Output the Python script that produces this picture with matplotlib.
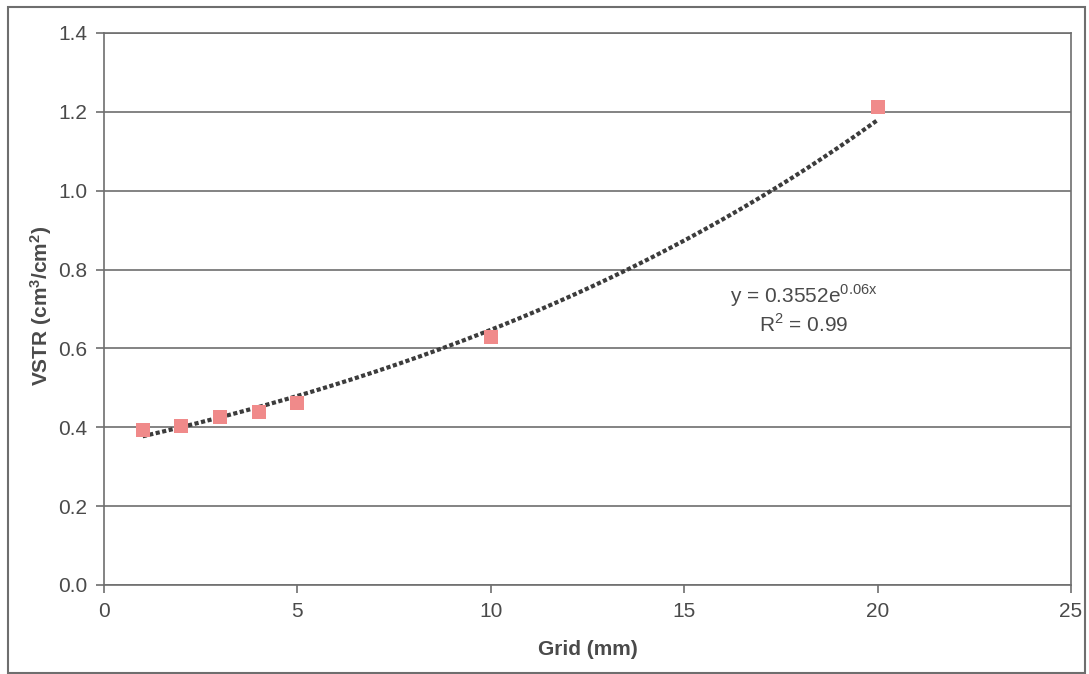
import numpy as np
import matplotlib.pyplot as plt
from matplotlib.patches import Rectangle

plt.rcParams['font.family'] = ['Liberation Sans', 'DejaVu Sans']
plt.rcParams['mathtext.fontset'] = 'custom'
plt.rcParams['mathtext.rm'] = 'Liberation Sans'
plt.rcParams['mathtext.bf'] = 'Liberation Sans:bold'

# Dados
grid_mm = [1, 2, 3, 4, 5, 10, 20]
vstr = [0.393, 0.403, 0.426, 0.439, 0.462, 0.629, 1.212]

# Coeficientes da linha de tendencia exponencial (do grafico)
coef_a = 0.3552
coef_b = 0.06

cor_texto = '#4a4a4a'
cor_linha = '#6e6e6e'

fig = plt.figure(figsize=(10.89, 6.74), dpi=100)
ax = fig.add_axes([104 / 1089, 1 - 585 / 674, (1071 - 104) / 1089, (585 - 33) / 674])

# Linha de tendencia
xt = np.linspace(min(grid_mm), max(grid_mm), 200)
ax.plot(xt, coef_a * np.exp(coef_b * xt), linestyle=(0, (1, 0.6)), color='#3c3c3c',
        linewidth=3, zorder=3)

# Pontos
ax.scatter(grid_mm, vstr, marker='s', s=95, color='#f08a8a', zorder=4, linewidths=0)

ax.set_xlim(0, 25)
ax.set_ylim(0, 1.4)
ax.set_xticks(range(0, 26, 5))
ax.set_yticks(np.arange(0, 1.41, 0.2))
ax.set_yticklabels([f'{v:.1f}' for v in np.arange(0, 1.41, 0.2)])
ax.yaxis.grid(True, color=cor_linha, linewidth=1.2)
ax.set_axisbelow(True)

for s in ax.spines.values():
    s.set_color(cor_linha)
    s.set_linewidth(1.2)

ax.tick_params(direction='out', length=6, width=1.2, color=cor_linha,
               labelsize=15, labelcolor=cor_texto, pad=6)

ax.set_xlabel('Grid (mm)', fontsize=15, fontweight='bold', color=cor_texto, labelpad=14)
ax.set_ylabel(r'VSTR (cm$\mathbf{^3}$/cm$\mathbf{^2}$)', fontsize=15, fontweight='bold',
              color=cor_texto)
ax.yaxis.set_label_coords(-0.052, 0.505)

ax.text(18.1, 0.735, r'y = 0.3552e$^{\mathrm{0.06x}}$', fontsize=15, color=cor_texto,
        ha='center', va='center')
ax.text(18.1, 0.66, r'R$^{\mathrm{2}}$ = 0.99', fontsize=15, color=cor_texto,
        ha='center', va='center')

# Moldura externa
fig.patches.append(Rectangle((8 / 1089, 1 - 673 / 674), (1085 - 8) / 1089, (673 - 7) / 674,
                             transform=fig.transFigure, fill=False,
                             edgecolor=cor_linha, linewidth=1.5))

plt.savefig('out.png', dpi=100)
